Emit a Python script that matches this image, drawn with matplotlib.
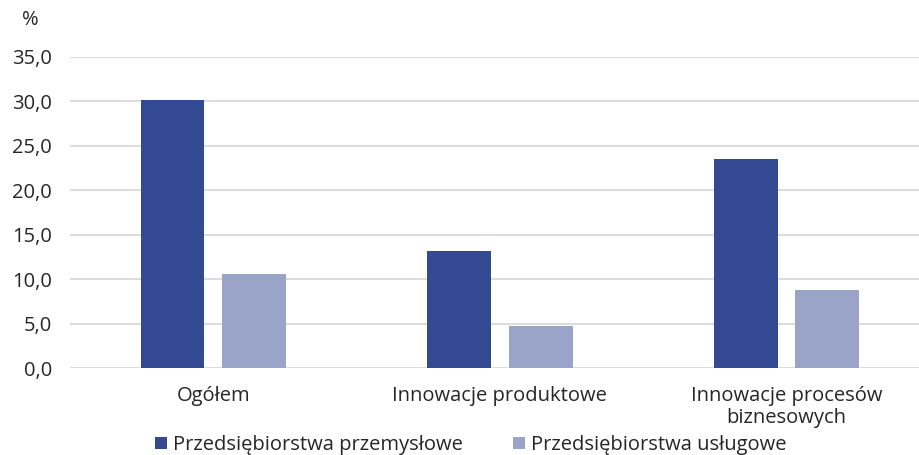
import matplotlib
matplotlib.use("Agg")
import matplotlib.pyplot as plt
import numpy as np

plt.rcParams['font.family'] = ['Open Sans', 'DejaVu Sans']

categories = ["Ogółem", "Innowacje produktowe", "Innowacje procesów\nbiznesowych"]
series_names = ["Przedsiębiorstwa przemysłowe", "Przedsiębiorstwa usługowe"]
industrial = [30.1, 13.2, 23.5]
services = [10.6, 4.7, 8.8]
yticks = [0, 5, 10, 15, 20, 25, 30, 35]

colors = ["#334a93", "#99a4c8"]
fs = 14.5

fig = plt.figure(figsize=(9.19, 4.55), dpi=100)
ax = fig.add_axes([0.076, 0.191, 0.936, 0.684])

x = np.arange(len(categories))
w = 0.223
off = 0.142
ax.bar(x - off, industrial, w, color=colors[0], label=series_names[0], zorder=3)
ax.bar(x + off, services, w, color=colors[1], label=series_names[1], zorder=3)

ax.set_xlim(-0.5, 2.5)
ax.set_ylim(0, 35)
ax.set_yticks(yticks)
ax.set_yticklabels([f"{v:.1f}".replace(".", ",") for v in yticks])
ax.yaxis.grid(True, color="#d9d9d9", linewidth=1.3, zorder=0)
ax.set_axisbelow(True)
for s in ax.spines.values():
    s.set_visible(False)
ax.tick_params(axis='both', length=0, labelsize=fs, colors="#262626")
ax.tick_params(axis='y', pad=13)
ax.tick_params(axis='x', pad=13)
ax.set_xticks(x)
ax.set_xticklabels(categories, linespacing=1.15)

fig.text(0.024, 0.955, "%", fontsize=fs, color="#262626", ha="left", va="center")

leg = fig.legend(loc="lower center", bbox_to_anchor=(0.512, -0.04), ncol=2, frameon=False,
                 fontsize=fs, handlelength=0.6, handleheight=0.6, handletextpad=0.3,
                 columnspacing=2.5, labelcolor="#262626")

fig.savefig("out.png", dpi=100)
